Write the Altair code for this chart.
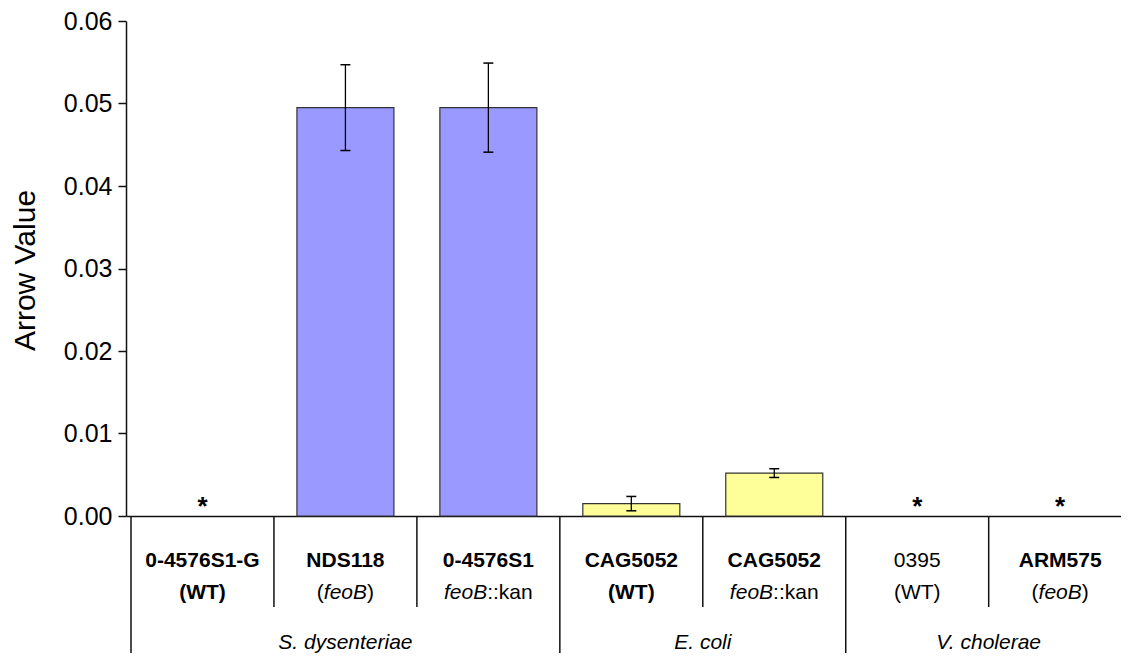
import altair as alt
import pandas as pd

# ---------------- data ----------------
strains = ["0-4576S1-G", "NDS118", "0-4576S1", "CAG5052", "CAG5052", "0395", "ARM575"]
strain_bold = [True, True, True, True, True, False, True]
genotypes = ["(WT)", "(feoB)", "feoB::kan", "(WT)", "feoB::kan", "(WT)", "(feoB)"]
genotype_bold = [True, False, False, True, False, False, False]
gene_name = "feoB"
species = ["S. dysenteriae", "S. dysenteriae", "S. dysenteriae",
           "E. coli", "E. coli", "V. cholerae", "V. cholerae"]
arrow_values = [0.0, 0.0495, 0.0495, 0.0015, 0.0052, 0.0, 0.0]
arrow_errors = [0.0, 0.0052, 0.0054, 0.00087, 0.00053, 0.0, 0.0]
markers = ["*", "", "", "", "", "*", "*"]
group_names = ["S. dysenteriae", "E. coli", "V. cholerae"]
group_colors = ["#9999FF", "#FFFF99", "#CCCCCC"]
y_ticks = [0.0, 0.01, 0.02, 0.03, 0.04, 0.05, 0.06]

# ---------------- layout constants ----------------
FONT = "Liberation Sans"
PLOT_W, PLOT_H = 995, 495
CAT_PX = 144.4
LABEL_SIZE = 21
Y_LINE1, Y_LINE2, Y_GROUP = 546, 578, 628
Y_SHORT_END, Y_LONG_END = 586, 632

# Arial/Liberation Sans advance widths (per 1000 em)
CW = {"(": 333, ")": 333, "f": 278, "e": 556, "o": 556, "B": 667, ":": 278,
      "k": 500, "a": 556, "n": 556}


def text_w(s):
    return sum(CW.get(c, 556) for c in s) * LABEL_SIZE / 1000.0


n = len(strains)
pos = [i + 0.5 for i in range(n)]

main = pd.DataFrame({
    "pos": pos,
    "value": arrow_values,
    "lo": [v - e for v, e in zip(arrow_values, arrow_errors)],
    "hi": [v + e for v, e in zip(arrow_values, arrow_errors)],
    "err": arrow_errors,
    "species": species,
    "marker": markers,
})

xenc = alt.X("pos:Q", scale=alt.Scale(domain=[0, PLOT_W / CAT_PX], nice=False, zero=False),
             axis=alt.Axis(labels=False, ticks=False, grid=False, title="",
                           domainColor="#111111", domainWidth=1.5))
yscale = alt.Scale(domain=[0, 0.06], nice=False, zero=True)
yaxis = alt.Axis(values=y_ticks, format=".2f", grid=False, title="Arrow Value",
                 labelFont=FONT, labelFontSize=25, labelColor="black", labelPadding=6,
                 tickColor="#111111", tickSize=8, tickWidth=1.5,
                 domainColor="#111111", domainWidth=1.5,
                 titleFont=FONT, titleFontSize=30, titleFontWeight="normal",
                 titleColor="black", titleAngle=-90, titleX=-92, titleY=249,
                 titleAlign="center", titleBaseline="alphabetic")

base = alt.Chart(main)

bars = base.transform_filter("datum.value > 0").mark_bar(
    width=97, stroke="#333333", strokeWidth=1.2
).encode(
    x=xenc,
    y=alt.Y("value:Q", scale=yscale, axis=yaxis),
    color=alt.Color("species:N", scale=alt.Scale(domain=group_names, range=group_colors),
                    legend=None),
)

err_rule = base.transform_filter("datum.err > 0").mark_rule(
    color="black", strokeWidth=1.3
).encode(x=xenc, y=alt.Y("lo:Q", scale=yscale, axis=yaxis), y2="hi:Q")

cap_lo = base.transform_filter("datum.err > 0").mark_tick(
    orient="horizontal", size=10, thickness=1.5, color="black", opacity=1
).encode(x=xenc, y=alt.Y("lo:Q", scale=yscale, axis=yaxis))

cap_hi = base.transform_filter("datum.err > 0").mark_tick(
    orient="horizontal", size=10, thickness=1.5, color="black", opacity=1
).encode(x=xenc, y=alt.Y("hi:Q", scale=yscale, axis=yaxis))

stars = base.transform_filter("datum.marker != ''").mark_text(
    font=FONT, fontSize=26, fontWeight="bold", baseline="alphabetic", dy=-1, color="black"
).encode(x=xenc, y=alt.Y("value:Q", scale=yscale, axis=yaxis), text="marker:N")

layers = [bars, err_rule, cap_lo, cap_hi, stars]

# ---------------- category label segments ----------------
segments = {}  # key: (weight, style, align, dx, y) -> list of rows


def add_seg(key, p, txt):
    segments.setdefault(key, []).append({"pos": p, "label": txt})


for i in range(n):
    w1 = "bold" if strain_bold[i] else "normal"
    add_seg((w1, "normal", "center", 0.0, Y_LINE1), pos[i], strains[i])
    g = genotypes[i]
    w2 = "bold" if genotype_bold[i] else "normal"
    if gene_name in g:
        k = g.index(gene_name)
        parts = [(g[:k], "normal"), (gene_name, "italic"), (g[k + len(gene_name):], "normal")]
        parts = [pp for pp in parts if pp[0]]
        total = sum(text_w(t) for t, _ in parts)
        left = -total / 2.0
        for t, st in parts:
            add_seg((w2, st, "left", round(left, 1), Y_LINE2), pos[i], t)
            left += text_w(t)
    else:
        add_seg((w2, "normal", "center", 0.0, Y_LINE2), pos[i], g)

for gname in group_names:
    members = [pos[i] for i in range(n) if species[i] == gname]
    add_seg(("normal", "italic", "center", 0.0, Y_GROUP), sum(members) / len(members), gname)

for (wt, st, al, dx, yy), rows in segments.items():
    layers.append(
        alt.Chart(pd.DataFrame(rows)).mark_text(
            font=FONT, fontSize=LABEL_SIZE, fontWeight=wt, fontStyle=st,
            align=al, dx=dx, baseline="alphabetic", color="black"
        ).encode(x=xenc, y=alt.value(yy), text="label:N")
    )

# ---------------- separators below the axis ----------------
sep_rows_short, sep_rows_long = [], []
for i in range(n):
    if i == 0 or species[i] != species[i - 1]:
        sep_rows_long.append({"pos": float(i)})
    else:
        sep_rows_short.append({"pos": float(i)})

layers.append(alt.Chart(pd.DataFrame(sep_rows_short)).mark_rule(
    color="#111111", strokeWidth=1.5).encode(x=xenc, y=alt.value(PLOT_H), y2=alt.value(Y_SHORT_END)))
layers.append(alt.Chart(pd.DataFrame(sep_rows_long)).mark_rule(
    color="#111111", strokeWidth=1.5).encode(x=xenc, y=alt.value(PLOT_H), y2=alt.value(Y_LONG_END)))

chart = alt.layer(*layers).properties(
    width=PLOT_W, height=PLOT_H,
    autosize=alt.AutoSizeParams(type="none"),
    padding={"left": 118, "top": 13, "right": 0, "bottom": 137},
    background="white",
).configure_view(stroke=None)

chart.save("out.html", embed_options={"renderer": "svg", "actions": False})
